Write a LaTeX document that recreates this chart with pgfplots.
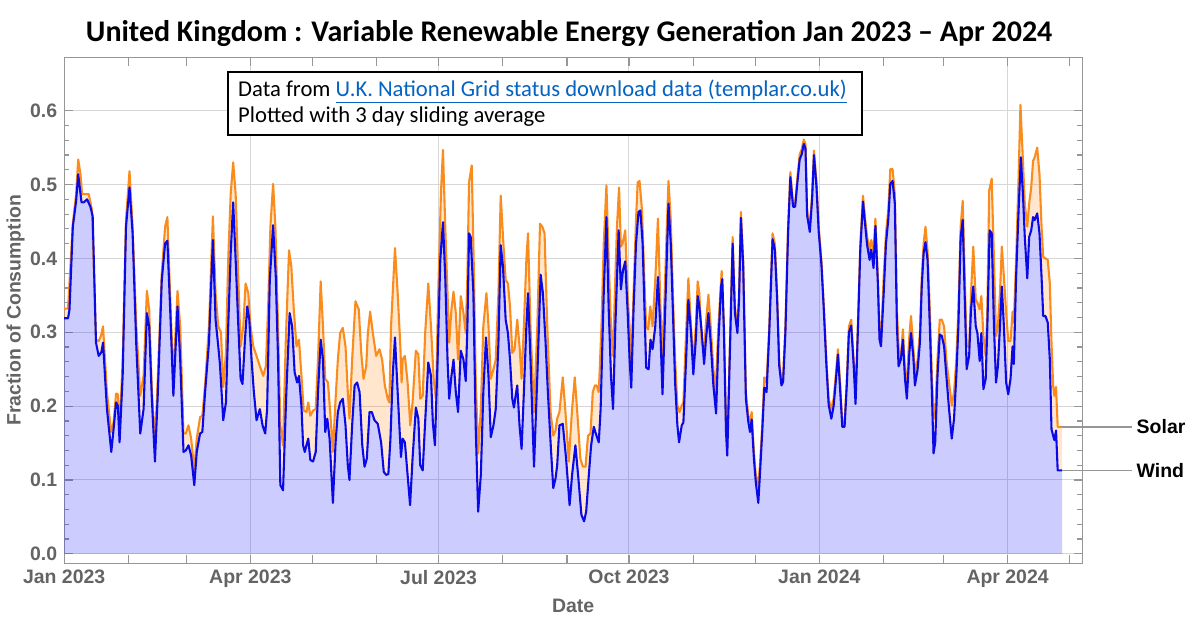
\documentclass[border=0pt]{standalone}
\usepackage{fontspec}
\setmainfont{Liberation Sans}
\newfontfamily\carlito{Carlito}
\usepackage{pgfplots}
\pgfplotsset{compat=1.18}
\usepackage{pgfplotstable}
\usepgfplotslibrary{fillbetween}
\definecolor{windline}{RGB}{10,10,230}
\definecolor{solarline}{RGB}{250,140,30}
\definecolor{framegray}{RGB}{150,150,150}
\definecolor{tickgray}{RGB}{100,100,100}
\definecolor{gridgray}{RGB}{215,215,215}
\definecolor{linkblue}{RGB}{5,99,193}

\pgfplotstableread{
day val
0 0.319
1.9 0.319
2.6 0.331
4.2 0.443
5.8 0.478
6.8 0.514
8.4 0.476
9.5 0.476
11.1 0.480
12.7 0.470
13.8 0.457
15.4 0.286
16.7 0.268
18.0 0.273
18.8 0.286
20.7 0.196
22.8 0.138
23.9 0.169
25.1 0.205
26.0 0.200
26.8 0.151
28.3 0.242
29.9 0.443
31.6 0.496
33.1 0.434
34.9 0.281
36.8 0.163
38.4 0.196
40.0 0.326
41.1 0.308
42.4 0.210
43.9 0.125
45.3 0.219
47.2 0.371
48.8 0.420
49.9 0.424
51.2 0.335
52.8 0.214
54.8 0.335
56.1 0.263
57.7 0.138
58.8 0.140
60.1 0.147
61.4 0.133
62.9 0.093
64.1 0.138
65.7 0.163
66.8 0.165
68.1 0.218
70.0 0.286
71.9 0.425
73.2 0.317
74.5 0.281
75.3 0.257
76.9 0.181
78.2 0.205
79.3 0.308
80.5 0.407
81.7 0.476
82.9 0.398
84.2 0.308
85.3 0.237
86.2 0.230
87.4 0.290
88.5 0.335
89.5 0.317
90.6 0.263
91.7 0.219
93.0 0.181
94.6 0.196
95.9 0.174
97.2 0.163
98.1 0.196
99.4 0.371
101.0 0.445
102.3 0.375
103.4 0.263
104.5 0.093
105.8 0.086
107.4 0.219
109.0 0.326
110.2 0.308
111.4 0.246
112.6 0.232
113.5 0.241
114.7 0.200
115.5 0.147
116.3 0.138
117.1 0.147
118.0 0.156
119.0 0.127
120.3 0.125
121.6 0.138
122.7 0.219
124.0 0.290
125.1 0.263
126.2 0.165
127.2 0.183
128.3 0.156
129.9 0.069
131.2 0.151
132.3 0.192
133.4 0.205
134.7 0.210
136.0 0.174
137.1 0.120
137.9 0.100
139.2 0.174
140.4 0.228
141.6 0.232
142.8 0.219
144.1 0.147
145.2 0.118
146.3 0.129
147.6 0.192
148.7 0.192
150.0 0.181
151.6 0.176
153.2 0.151
154.5 0.111
155.6 0.107
156.7 0.108
157.7 0.155
158.8 0.241
159.9 0.293
161.2 0.219
162.8 0.131
163.6 0.156
164.7 0.151
166.0 0.107
167.2 0.066
168.4 0.129
170.0 0.198
171.2 0.183
172.1 0.120
173.3 0.113
174.4 0.174
176.0 0.259
177.3 0.241
178.2 0.178
179.2 0.147
180.5 0.263
181.8 0.398
183.1 0.449
184.2 0.375
185.3 0.263
186.1 0.210
187.2 0.241
188.2 0.263
189.3 0.219
190.4 0.192
191.7 0.275
193.0 0.263
194.1 0.234
194.9 0.308
195.7 0.434
196.5 0.429
197.8 0.353
198.9 0.174
200.1 0.057
201.4 0.107
202.6 0.219
203.9 0.293
205.1 0.241
206.2 0.158
207.5 0.174
208.6 0.196
209.9 0.286
211.0 0.418
212.1 0.389
213.4 0.317
214.5 0.299
215.5 0.263
216.6 0.210
217.4 0.198
218.2 0.214
219.0 0.228
220.1 0.174
221.1 0.142
222.2 0.219
223.4 0.308
224.2 0.353
225.4 0.263
227.1 0.118
228.7 0.241
230.3 0.378
231.4 0.353
232.7 0.286
233.8 0.219
235.1 0.151
236.4 0.089
237.5 0.102
238.3 0.120
239.4 0.174
241.0 0.176
242.6 0.129
244.3 0.066
245.5 0.107
247.1 0.147
248.4 0.107
250.0 0.053
251.3 0.044
252.3 0.057
253.6 0.107
254.7 0.147
256.0 0.172
257.3 0.160
258.4 0.151
259.3 0.196
260.8 0.353
262.1 0.456
263.2 0.331
264.3 0.241
265.3 0.196
266.4 0.308
268.0 0.438
269.1 0.358
270.1 0.384
271.2 0.396
272.3 0.331
273.3 0.263
274.1 0.225
275.2 0.331
276.4 0.420
277.6 0.463
278.5 0.465
279.6 0.420
280.5 0.331
281.3 0.252
282.5 0.250
283.4 0.290
284.4 0.277
285.7 0.308
287.0 0.375
288.1 0.308
289.2 0.216
290.5 0.331
292.1 0.474
293.2 0.420
294.2 0.331
295.3 0.232
296.4 0.174
297.2 0.151
298.5 0.174
299.3 0.178
300.6 0.263
301.7 0.344
303.0 0.299
304.1 0.243
305.3 0.290
306.2 0.349
307.0 0.335
308.2 0.299
309.3 0.257
310.2 0.290
311.4 0.326
312.5 0.286
313.8 0.228
315.1 0.190
316.2 0.286
317.5 0.362
318.1 0.372
318.9 0.300
319.9 0.165
320.5 0.133
321.8 0.276
323.1 0.420
324.2 0.326
325.4 0.299
326.2 0.345
327.1 0.455
328.2 0.390
329.5 0.210
330.7 0.178
331.5 0.165
332.3 0.182
333.4 0.128
334.3 0.097
335.5 0.069
336.3 0.108
337.4 0.165
338.4 0.225
339.5 0.219
340.8 0.300
342.4 0.426
343.5 0.412
344.6 0.345
345.6 0.255
346.7 0.228
347.5 0.233
348.6 0.300
349.9 0.436
351.0 0.510
352.3 0.470
353.3 0.470
354.4 0.503
355.5 0.534
356.5 0.541
357.5 0.555
358.3 0.549
359.1 0.458
360.4 0.436
361.5 0.480
362.4 0.540
363.6 0.498
364.7 0.436
366.0 0.392
367.1 0.334
368.4 0.256
369.5 0.202
370.8 0.183
371.9 0.200
372.9 0.232
374.0 0.270
375.1 0.220
376.1 0.172
377.2 0.172
378.3 0.230
379.3 0.300
380.4 0.309
381.6 0.255
382.5 0.203
383.6 0.300
384.8 0.412
386.1 0.477
387.2 0.444
388.1 0.418
389.3 0.398
390.1 0.412
391.2 0.387
392.1 0.444
393.3 0.365
394.1 0.290
394.8 0.281
396.1 0.353
397.2 0.420
398.3 0.452
399.3 0.501
400.4 0.505
401.5 0.474
402.5 0.308
403.3 0.254
404.4 0.263
405.4 0.290
406.4 0.237
407.3 0.210
408.5 0.272
409.3 0.299
410.4 0.268
411.2 0.228
412.5 0.250
413.6 0.286
414.5 0.362
415.4 0.407
416.3 0.422
417.3 0.398
418.4 0.308
419.4 0.219
420.2 0.136
421.0 0.151
422.1 0.241
423.2 0.297
424.2 0.295
425.3 0.281
426.4 0.241
427.7 0.196
429.0 0.156
430.1 0.183
431.2 0.241
432.2 0.308
433.3 0.429
434.3 0.452
435.3 0.344
436.2 0.250
437.4 0.268
438.3 0.331
439.4 0.362
440.6 0.308
441.4 0.299
442.5 0.261
443.3 0.299
444.3 0.223
445.4 0.237
446.2 0.308
447.3 0.438
448.3 0.434
449.4 0.308
450.4 0.232
451.3 0.254
452.3 0.308
453.2 0.362
454.2 0.308
455.3 0.232
456.3 0.216
457.4 0.237
458.4 0.281
459.0 0.257
460.1 0.375
461.3 0.465
462.4 0.537
463.4 0.487
464.3 0.429
465.5 0.373
466.4 0.429
467.4 0.438
468.3 0.456
469.1 0.452
470.3 0.461
471.4 0.434
472.4 0.375
473.2 0.322
474.3 0.322
475.4 0.313
476.4 0.263
477.2 0.169
478.0 0.160
478.6 0.154
479.4 0.167
480.2 0.113
482.3 0.113
}\wind

\pgfplotstableread{
day val
0 0.332
1.9 0.332
4.2 0.447
5.8 0.487
6.8 0.534
7.9 0.514
8.7 0.487
11.9 0.487
13.5 0.465
15.4 0.290
16.7 0.288
17.8 0.295
18.8 0.308
20.7 0.219
22.7 0.165
23.9 0.178
25.1 0.217
26.0 0.216
26.8 0.165
28.3 0.263
29.9 0.452
31.6 0.518
33.1 0.443
34.9 0.308
36.8 0.214
38.4 0.241
40.0 0.356
41.1 0.331
42.4 0.223
43.9 0.151
45.3 0.241
47.2 0.380
48.8 0.443
49.9 0.456
51.2 0.353
52.8 0.237
54.8 0.356
56.1 0.308
57.7 0.163
58.8 0.163
60.1 0.174
61.4 0.156
62.9 0.113
64.1 0.156
65.7 0.185
66.8 0.187
68.1 0.228
70.0 0.308
71.9 0.457
73.2 0.353
74.5 0.308
75.8 0.300
76.9 0.226
78.2 0.272
79.3 0.398
80.5 0.487
81.7 0.530
82.9 0.487
84.2 0.371
85.3 0.281
86.6 0.308
87.7 0.366
89.0 0.353
90.1 0.308
91.4 0.281
93.0 0.268
94.6 0.254
96.2 0.241
97.5 0.254
98.6 0.335
99.7 0.443
101.0 0.501
102.1 0.443
103.4 0.308
104.5 0.174
105.8 0.147
107.1 0.286
108.7 0.411
109.8 0.389
111.0 0.331
112.3 0.281
113.5 0.290
114.7 0.241
115.8 0.194
117.1 0.192
118.0 0.205
119.0 0.187
120.3 0.194
121.6 0.196
122.7 0.263
124.0 0.369
125.1 0.308
126.2 0.237
127.5 0.232
128.6 0.192
129.9 0.138
131.2 0.210
132.3 0.263
133.4 0.299
134.7 0.306
136.0 0.281
137.1 0.219
137.9 0.183
139.2 0.263
140.8 0.342
142.4 0.331
143.6 0.272
144.7 0.237
146.0 0.254
146.8 0.299
147.9 0.328
149.2 0.299
150.8 0.268
152.4 0.277
153.7 0.263
155.0 0.228
156.4 0.210
157.2 0.205
158.0 0.308
159.9 0.414
161.2 0.353
162.5 0.281
163.1 0.232
163.6 0.263
164.7 0.268
166.0 0.232
167.3 0.174
168.4 0.205
170.0 0.275
171.2 0.270
172.1 0.210
173.3 0.214
174.5 0.299
176.0 0.366
177.3 0.308
178.6 0.237
179.7 0.210
180.8 0.353
182.1 0.487
183.1 0.547
184.2 0.443
186.1 0.286
187.2 0.331
188.2 0.355
189.3 0.326
190.4 0.263
191.7 0.349
193.0 0.326
194.1 0.299
194.9 0.375
195.7 0.503
197.0 0.526
198.1 0.375
198.9 0.241
200.1 0.136
201.4 0.196
202.6 0.308
204.1 0.353
205.1 0.308
206.2 0.237
207.5 0.250
208.6 0.263
209.9 0.353
211.0 0.485
212.3 0.420
213.4 0.371
214.5 0.366
215.5 0.335
216.6 0.272
217.7 0.277
219.0 0.317
220.1 0.281
221.1 0.237
222.2 0.308
223.4 0.398
224.2 0.434
225.4 0.308
227.1 0.192
228.7 0.308
230.0 0.447
231.1 0.443
232.2 0.434
233.5 0.308
235.1 0.192
236.4 0.160
237.5 0.167
238.3 0.183
239.4 0.192
241.0 0.239
242.3 0.192
243.9 0.125
245.5 0.196
246.8 0.239
247.9 0.196
249.5 0.129
250.7 0.118
252.0 0.118
253.2 0.160
254.4 0.163
255.5 0.219
256.5 0.228
257.3 0.228
258.4 0.219
259.7 0.308
260.8 0.420
262.1 0.499
263.2 0.398
264.3 0.308
265.3 0.268
266.4 0.375
267.2 0.443
268.2 0.496
269.1 0.416
269.9 0.420
271.2 0.438
272.3 0.353
273.3 0.308
274.1 0.257
275.2 0.353
276.4 0.452
277.2 0.503
278.1 0.505
279.3 0.465
280.4 0.375
281.3 0.308
282.3 0.304
283.3 0.335
284.4 0.308
285.7 0.371
287.0 0.454
288.1 0.344
289.2 0.263
290.5 0.375
291.3 0.443
292.1 0.505
293.2 0.452
294.2 0.353
295.3 0.263
296.4 0.201
297.4 0.192
298.5 0.201
299.3 0.205
300.4 0.286
301.7 0.373
303.0 0.308
304.1 0.259
305.3 0.308
306.2 0.369
307.0 0.353
308.2 0.286
309.3 0.272
310.2 0.313
311.4 0.351
312.5 0.308
313.8 0.250
314.9 0.219
316.2 0.308
317.8 0.383
318.9 0.308
319.9 0.174
320.5 0.147
321.8 0.286
323.1 0.429
324.2 0.335
325.4 0.308
326.2 0.353
327.1 0.463
328.2 0.398
329.5 0.219
330.7 0.187
331.5 0.178
332.3 0.192
333.4 0.138
334.3 0.107
335.5 0.093
336.3 0.120
337.4 0.174
338.4 0.239
339.5 0.232
340.8 0.308
342.4 0.434
343.5 0.420
344.6 0.353
345.6 0.263
346.7 0.232
347.5 0.241
348.6 0.308
349.9 0.443
351.0 0.517
352.3 0.474
353.3 0.474
354.4 0.510
355.5 0.541
356.5 0.548
357.5 0.561
358.3 0.555
359.1 0.465
360.4 0.443
361.5 0.487
362.4 0.546
363.6 0.505
364.7 0.443
366.0 0.398
367.1 0.340
368.4 0.263
369.5 0.210
370.8 0.196
371.9 0.210
372.9 0.241
374.0 0.277
375.1 0.228
376.1 0.178
377.2 0.178
378.3 0.237
379.3 0.308
380.4 0.317
381.6 0.263
382.5 0.219
383.6 0.308
384.8 0.420
386.1 0.485
387.2 0.452
388.1 0.429
389.3 0.411
390.1 0.425
391.2 0.411
392.1 0.454
393.3 0.375
394.1 0.299
394.8 0.290
396.1 0.375
397.2 0.434
398.3 0.465
399.3 0.521
400.4 0.521
401.5 0.487
402.5 0.331
403.6 0.263
404.4 0.268
405.4 0.304
406.4 0.246
407.3 0.232
408.5 0.295
409.3 0.322
410.4 0.281
411.2 0.246
412.5 0.263
413.6 0.299
414.5 0.375
415.4 0.420
416.3 0.443
417.3 0.411
418.4 0.331
419.4 0.241
420.2 0.183
421.0 0.192
422.1 0.263
423.2 0.317
424.2 0.317
425.3 0.308
426.4 0.263
427.7 0.232
429.0 0.201
430.1 0.219
431.2 0.263
432.2 0.331
433.3 0.443
434.3 0.478
435.3 0.375
436.2 0.281
437.4 0.281
438.3 0.353
439.4 0.416
440.6 0.344
441.4 0.340
442.5 0.331
443.3 0.349
444.3 0.295
445.4 0.268
446.2 0.331
447.1 0.492
448.3 0.508
449.4 0.398
450.4 0.295
451.3 0.308
452.3 0.353
453.2 0.416
454.2 0.375
455.3 0.326
456.3 0.288
457.4 0.288
458.4 0.328
459.0 0.313
460.1 0.398
461.3 0.510
462.2 0.608
463.4 0.532
464.3 0.474
465.5 0.443
466.4 0.474
467.4 0.496
468.3 0.532
469.1 0.537
470.3 0.550
471.4 0.514
472.4 0.443
473.2 0.402
474.3 0.400
475.4 0.398
476.4 0.366
477.2 0.286
478.0 0.228
478.6 0.214
479.4 0.226
480.2 0.172
482.3 0.172
}\solar

\begin{document}
\begin{tikzpicture}
\begin{axis}[
  at={(30.15bp,34.9bp)}, anchor=south west, scale only axis,
  width=510.7bp, height=253.95bp,
  xmin=0, xmax=492, ymin=-0.0128, ymax=0.6726,
  clip=false,
  axis line style={framegray, line width=0.6bp},
  tick style={framegray, line width=0.6bp},
  tick align=inside, tick pos=both,
  xticklabel pos=lower, yticklabel pos=left,
  xtick={0,90,181,273,365,456},
  xticklabels={Jan 2023,Apr 2023,Jul 2023,Oct 2023,Jan 2024,Apr 2024},
  extra x ticks={31,59,120,151,212,243,304,334,396,425,486},
  extra x tick labels={},
  extra x tick style={grid=none},
  ytick={0,0.1,0.2,0.3,0.4,0.5,0.6},
  yticklabels={0.0,0.1,0.2,0.3,0.4,0.5,0.6},
  minor y tick num=4,
  major tick length=4.3bp, minor tick length=2.5bp,
  grid=major, major grid style={gridgray, line width=0.5bp},
  ticklabel style={font=\fontsize{9.8}{11}\selectfont\bfseries, text=tickgray},
]
\addplot[draw=none, fill=blue, fill opacity=0.2, forget plot] table[x=day,y=val] {\wind} \closedcycle;
\addplot[name path=S, draw=none, forget plot] table[x=day,y=val] {\solar};
\addplot[name path=W, draw=none, forget plot] table[x=day,y=val] {\wind};
\addplot[fill=orange, fill opacity=0.2, draw=none] fill between[of=S and W];
\addplot[solarline, line width=1.05bp, line join=round] table[x=day,y=val] {\solar};
\addplot[windline, line width=1.05bp, line join=round] table[x=day,y=val] {\wind};
\draw[framegray, line width=0.7bp] (axis cs:482.3,0.172) -- (axis cs:516.1,0.172);
\draw[framegray, line width=0.7bp] (axis cs:482.3,0.113) -- (axis cs:516.1,0.113);
\node[anchor=west, inner sep=0, font=\fontsize{9.8}{11}\selectfont\bfseries] at (axis cs:518.2,0.172) {Solar};
\node[anchor=west, inner sep=0, font=\fontsize{9.8}{11}\selectfont\bfseries] at (axis cs:518.2,0.113) {Wind};
\end{axis}
\node[anchor=base, inner sep=0] at (283.5bp,296.5bp) {\carlito\bfseries\fontsize{15.1}{18}\selectfont United Kingdom : Variable Renewable Energy Generation Jan 2023 – Apr 2024};
\node[rotate=90, text=tickgray, font=\fontsize{9.8}{11}\selectfont\bfseries] at (5.85bp,161.9bp) {Fraction of Consumption};
\node[text=tickgray, font=\fontsize{9.8}{11}\selectfont\bfseries] at (285.5bp,13.5bp) {Date};
\draw[black, line width=1bp, fill=white] (112.5bp,250bp) rectangle (430.5bp,281.5bp);
\node[anchor=base west, inner sep=0] at (117.3bp,269.2bp) {\carlito\fontsize{11.4}{13}\selectfont Data from {\color{linkblue}\underline{U.K. National Grid status download data (templar.co.uk)}}};
\node[anchor=base west, inner sep=0] at (117.3bp,256.2bp) {\carlito\fontsize{11.4}{13}\selectfont Plotted with 3 day sliding average};
\path (0,0) rectangle (600bp,317.5bp);
\end{tikzpicture}
\end{document}
